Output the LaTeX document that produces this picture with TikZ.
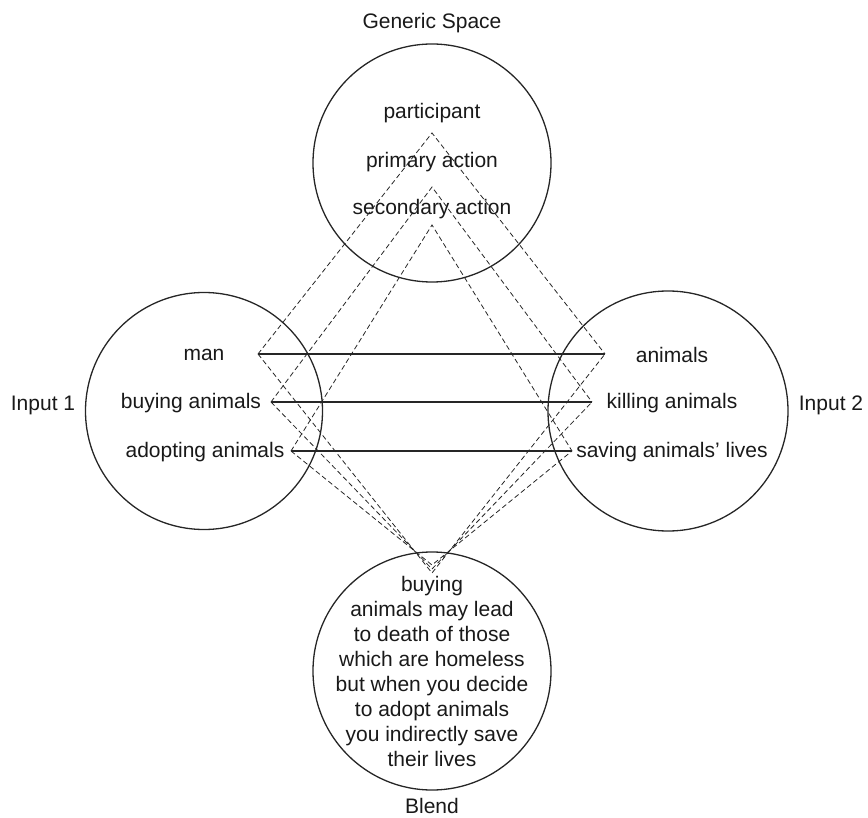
\documentclass[tikz,border=0pt]{standalone}
\usepackage{fontspec}
\setmainfont{Liberation Sans}
\begin{document}
\begin{tikzpicture}[x=1pt,y=-1pt,
  space/.style={draw=black!85,line width=1.3pt},
  link/.style={draw=black!85,line width=1.1pt},
  mapping/.style={draw=black!85,line width=0.8pt,dash pattern=on 5pt off 3pt},
  lbl/.style={inner sep=0pt,font=\fontsize{21}{25}\selectfont,text=black!90}]
\useasboundingbox (0,0) rectangle (868,818);

% the four mental spaces
\node[space,circle,minimum size=238pt,inner sep=0pt] (generic) at (432,163) {};
\node[space,circle,minimum size=237pt,inner sep=0pt] (input1) at (204,411) {};
\node[space,circle,minimum size=240pt,inner sep=0pt] (input2) at (668,411) {};
\node[space,circle,minimum size=238pt,inner sep=0pt] (blend) at (432,671) {};

% space titles
\node[lbl] (tgeneric) at (432,23) {Generic Space};
\node[lbl] (tinput1) at (43,405) {Input 1};
\node[lbl] (tinput2) at (831,405) {Input 2};
\node[lbl] (tblend) at (432,806) {Blend};

% generic space elements
\node[lbl] (gpart) at (432,113) {participant};
\node[lbl] (gprim) at (432,162) {primary action};
\node[lbl] (gsec) at (432,209) {secondary action};

% input 1 elements
\node[lbl] (man) at (204,355) {man};
\node[lbl] (buying) at (191,403) {buying animals};
\node[lbl] (adopting) at (205,452) {adopting animals};

% input 2 elements
\node[lbl] (animals) at (672,355) {animals};
\node[lbl] (killing) at (672,403) {killing animals};
\node[lbl] (saving) at (672,452) {saving animals’ lives};

% blended content
\node[lbl,align=center] (btext) at (432,671) {buying\\animals may lead\\to death of those\\which are homeless\\but when you decide\\to adopt animals\\you indirectly save\\their lives};

% mapping vertices
\coordinate (gA) at (432,133);
\coordinate (gB) at (432,187);
\coordinate (gC) at (432,225);
\coordinate (lA) at (258,354);
\coordinate (lB) at (271,402);
\coordinate (lC) at (291,451);
\coordinate (rA) at (605,354);
\coordinate (rB) at (592,402);
\coordinate (rC) at (572,451);
\coordinate (bA) at (432,573);
\coordinate (bB) at (432,569);
\coordinate (bC) at (432,565);

% cross-space counterpart links
\draw[link] (lA) -- (rA);
\draw[link] (lB) -- (rB);
\draw[link] (lC) -- (rC);

% projections from the generic space
\draw[mapping] (lA) -- (gA) -- (rA);
\draw[mapping] (lB) -- (gB) -- (rB);
\draw[mapping] (lC) -- (gC) -- (rC);

% projections into the blend
\draw[mapping] (lA) -- (bA) -- (rA);
\draw[mapping] (lB) -- (bB) -- (rB);
\draw[mapping] (lC) -- (bC) -- (rC);
\end{tikzpicture}
\end{document}
